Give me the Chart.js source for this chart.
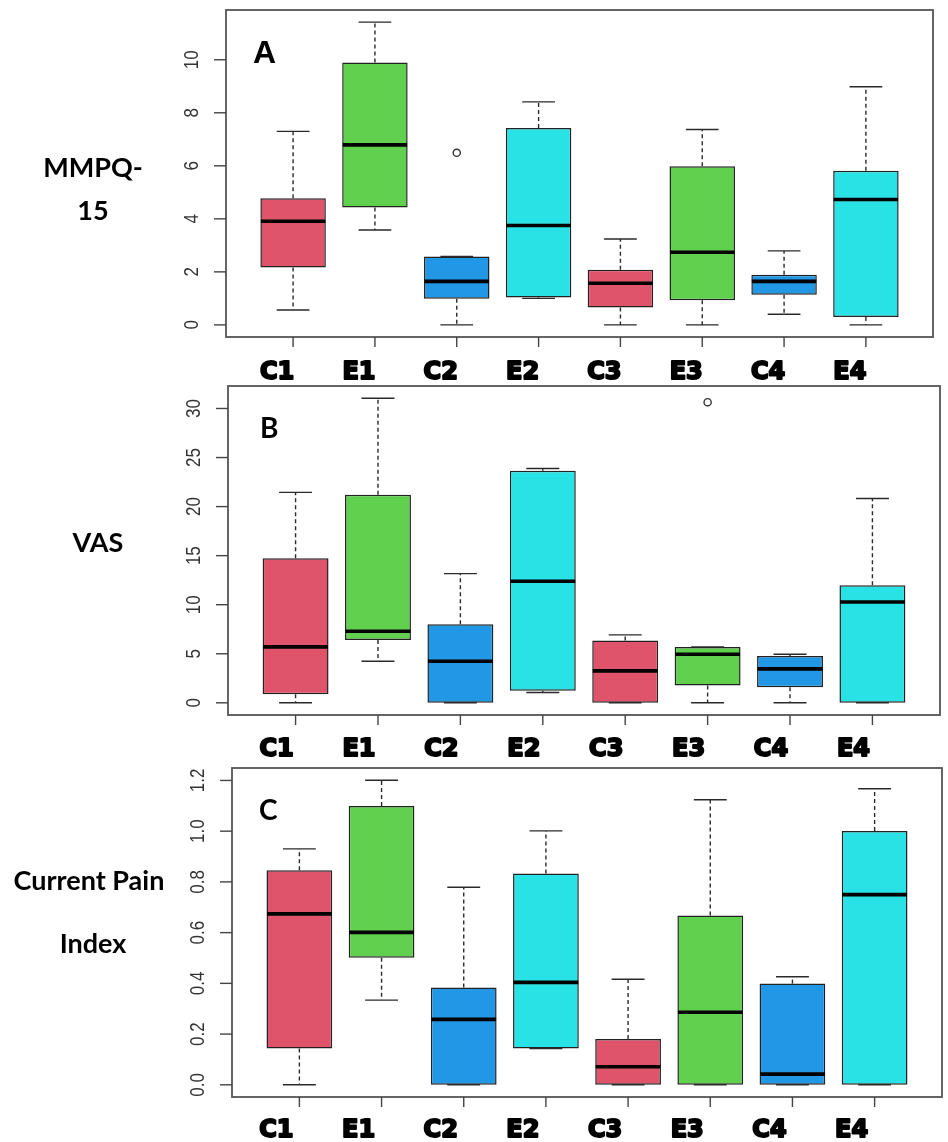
<!DOCTYPE html>
<html>
<head>
<meta charset="utf-8">
<script src="https://cdn.jsdelivr.net/npm/chart.js@4.4.1/dist/chart.umd.min.js"></script>
<style>
  html, body { margin: 0; padding: 0; background: #ffffff; }
  #wrap { position: relative; width: 948px; height: 1142px; overflow: hidden; }
  canvas { position: absolute; left: 0; }
</style>
</head>
<body>
<div id="wrap">
  <canvas id="panelA" width="948" height="380" style="top:0px"></canvas>
  <canvas id="panelB" width="948" height="380" style="top:380px"></canvas>
  <canvas id="panelC" width="948" height="382" style="top:760px"></canvas>
</div>
<script>
// Groups along the x axis
const groups = ['C1', 'E1', 'C2', 'E2', 'C3', 'E3', 'C4', 'E4'];

// MMPQ-15 : whisker ends, quartiles, medians, outliers
const mmpqLow  = [0.56, 3.58, 0.00, 1.00, 0.00, 0.00, 0.40, 0.00];
const mmpqQ1   = [2.16, 4.43, 0.99, 1.03, 0.66, 0.93, 1.14, 0.30];
const mmpqMed  = [3.91, 6.79, 1.64, 3.75, 1.57, 2.74, 1.64, 4.73];
const mmpqQ3   = [4.78, 9.90, 2.58, 7.43, 2.08, 5.98, 1.89, 5.81];
const mmpqHigh = [7.30, 11.42, 2.58, 8.41, 3.24, 7.37, 2.79, 8.98];
const mmpqOut  = [[], [], [6.49], [], [], [], [], []];
const mmpqTicks = [0, 2, 4, 6, 8, 10];

// VAS
const vasLow  = [0.00, 4.24, 0.00, 1.05, 0.00, 0.00, 0.00, 0.00];
const vasQ1   = [0.88, 6.41, 0.00, 1.22, 0.00, 1.76, 1.59, 0.00];
const vasMed  = [5.70, 7.30, 4.24, 12.39, 3.26, 4.95, 3.46, 10.28];
const vasQ3   = [14.73, 21.21, 8.01, 23.65, 6.35, 5.70, 4.78, 11.98];
const vasHigh = [21.45, 31.05, 13.17, 23.89, 6.92, 5.70, 4.95, 20.83];
const vasOut  = [[], [], [], [], [], [30.64], [], []];
const vasTicks = [0, 5, 10, 15, 20, 25, 30];

// Current Pain Index
const cpiLow  = [0.000, 0.334, 0.000, 0.143, 0.000, 0.000, 0.000, 0.000];
const cpiQ1   = [0.143, 0.501, 0.000, 0.143, 0.000, 0.000, 0.000, 0.000];
const cpiMed  = [0.674, 0.601, 0.258, 0.404, 0.071, 0.286, 0.042, 0.750];
const cpiQ3   = [0.846, 1.099, 0.384, 0.833, 0.181, 0.668, 0.399, 1.001];
const cpiHigh = [0.930, 1.201, 0.779, 1.001, 0.416, 1.124, 0.426, 1.167];
const cpiOut  = [[], [], [], [], [], [], [], []];
const cpiTicks = [0, 0.2, 0.4, 0.6, 0.8, 1.0, 1.2];

// Fill colours per group (R 4 palette)
const groupColors = ['#DF536B', '#61D04F', '#2297E6', '#28E2E5',
                     '#DF536B', '#61D04F', '#2297E6', '#28E2E5'];

Chart.defaults.animation = false;
Chart.defaults.devicePixelRatio = 1;

// Axis range padded by 4% on each side, like base R graphics
function paddedRange(lo, hi) {
  const r = hi - lo;
  return [lo - 0.04 * r, hi + 0.04 * r];
}

function makeBoxPlugin(stats, deco) {
  return {
    id: 'boxDecor' + deco.key,
    afterDatasetsDraw(chart) {
      const { ctx, scales: { x, y } } = chart;
      const meta = chart.getDatasetMeta(0);
      ctx.save();
      meta.data.forEach((bar, i) => {
        const cx = x.getPixelForValue(i + 1);
        const w = bar.width;
        const capHalf = w / 4;
        const yLow = y.getPixelForValue(stats.low[i]);
        const yQ1 = y.getPixelForValue(stats.q1[i]);
        const yMed = y.getPixelForValue(stats.med[i]);
        const yQ3 = y.getPixelForValue(stats.q3[i]);
        const yHigh = y.getPixelForValue(stats.high[i]);
        // dashed whiskers
        ctx.strokeStyle = '#2a2a2a';
        ctx.lineWidth = 1.4;
        ctx.setLineDash([4, 3]);
        ctx.beginPath();
        if (yHigh < yQ3 - 0.5) { ctx.moveTo(cx, yQ3); ctx.lineTo(cx, yHigh); }
        if (yLow > yQ1 + 0.5) { ctx.moveTo(cx, yQ1); ctx.lineTo(cx, yLow); }
        ctx.stroke();
        // staples
        ctx.setLineDash([]);
        ctx.beginPath();
        ctx.moveTo(cx - capHalf, yHigh); ctx.lineTo(cx + capHalf, yHigh);
        ctx.moveTo(cx - capHalf, yLow); ctx.lineTo(cx + capHalf, yLow);
        ctx.stroke();
        // median
        ctx.strokeStyle = '#000000';
        ctx.lineWidth = 3.6;
        ctx.beginPath();
        ctx.moveTo(cx - w / 2 + 0.5, yMed); ctx.lineTo(cx + w / 2 - 0.5, yMed);
        ctx.stroke();
        // outliers
        ctx.strokeStyle = '#333333';
        ctx.lineWidth = 1.4;
        stats.out[i].forEach(v => {
          ctx.beginPath();
          ctx.arc(cx, y.getPixelForValue(v), 3.6, 0, Math.PI * 2);
          ctx.stroke();
        });
      });
      ctx.restore();
    },
    afterDraw(chart) {
      const { ctx, chartArea: a, scales: { x, y } } = chart;
      ctx.save();
      // plot frame
      ctx.strokeStyle = '#555555';
      ctx.lineWidth = 1.8;
      ctx.strokeRect(a.left, a.top, a.right - a.left, a.bottom - a.top);
      // y ticks with labels reading bottom-to-top
      ctx.strokeStyle = '#444444';
      ctx.lineWidth = 1.4;
      ctx.fillStyle = '#333333';
      ctx.font = '17px "Liberation Sans", Arial, sans-serif';
      ctx.textAlign = 'center';
      ctx.textBaseline = 'alphabetic';
      y.ticks.forEach(t => {
        const py = y.getPixelForValue(t.value);
        ctx.beginPath();
        ctx.moveTo(a.left - 12, py); ctx.lineTo(a.left, py);
        ctx.stroke();
        ctx.save();
        ctx.translate(a.left - 28, py);
        ctx.scale(1.2, 1);
        ctx.rotate(-Math.PI / 2);
        ctx.fillText(deco.tickFormat(t.value), 0, 0);
        ctx.restore();
      });
      // x ticks and group labels
      ctx.fillStyle = '#000000';
      ctx.font = 'bold 24px "DejaVu Sans", sans-serif';
      x.ticks.forEach((t, i) => {
        const px = x.getPixelForValue(t.value);
        ctx.strokeStyle = '#444444';
        ctx.lineWidth = 1.4;
        ctx.beginPath();
        ctx.moveTo(px, a.bottom); ctx.lineTo(px, a.bottom + 10);
        ctx.stroke();
        ctx.strokeStyle = '#000000';
        ctx.lineWidth = 2;
        ctx.lineJoin = 'round';
        const lbl = groups[i];
        ctx.strokeText(lbl, px + deco.labelShift, a.bottom + deco.labelDrop);
        ctx.fillText(lbl, px + deco.labelShift, a.bottom + deco.labelDrop);
      });
      // panel letter
      ctx.textAlign = 'left';
      ctx.font = deco.letterFont;
      ctx.fillText(deco.letter, deco.letterX, deco.letterY);
      // axis title
      ctx.textAlign = 'center';
      ctx.font = 'bold 27px Lato, "Open Sans", sans-serif';
      deco.title.forEach(line => ctx.fillText(line.text, line.x, line.y));
      ctx.restore();
    }
  };
}

function buildPanel(canvasId, stats, ticks, deco, pad) {
  const outFlat = stats.out.flat();
  const [yMin, yMax] = paddedRange(
    Math.min(...stats.low, ...outFlat),
    Math.max(...stats.high, ...outFlat));
  const [xMin, xMax] = paddedRange(0.5, groups.length + 0.5);
  return new Chart(document.getElementById(canvasId), {
    type: 'bar',
    data: {
      datasets: [{
        data: groups.map((g, i) => ({ x: i + 1, y: [stats.q1[i], stats.q3[i]] })),
        backgroundColor: groupColors,
        borderColor: '#222222',
        borderWidth: 1.5,
        borderSkipped: false,
        categoryPercentage: 1.0,
        barPercentage: 0.8
      }]
    },
    options: {
      responsive: false,
      animation: false,
      layout: { padding: pad },
      plugins: { legend: { display: false }, tooltip: { enabled: false } },
      scales: {
        x: {
          type: 'linear', display: false, offset: false, min: xMin, max: xMax,
          afterBuildTicks: s => { s.ticks = groups.map((g, i) => ({ value: i + 1 })); }
        },
        y: {
          type: 'linear', display: false, min: yMin, max: yMax,
          afterBuildTicks: s => { s.ticks = ticks.map(v => ({ value: v })); }
        }
      }
    },
    plugins: [makeBoxPlugin(stats, deco)]
  });
}

buildPanel('panelA',
  { low: mmpqLow, q1: mmpqQ1, med: mmpqMed, q3: mmpqQ3, high: mmpqHigh, out: mmpqOut },
  mmpqTicks,
  { key: 'A', tickFormat: v => String(v), labelShift: -16, labelDrop: 42,
    letter: 'A', letterFont: 'bold 32px "Liberation Sans", Arial, sans-serif', letterX: 253, letterY: 63,
    title: [{ text: 'MMPQ-', x: 93, y: 177 }, { text: '15', x: 93, y: 220 }] },
  { left: 226, right: 15, top: 10, bottom: 43 });

buildPanel('panelB',
  { low: vasLow, q1: vasQ1, med: vasMed, q3: vasQ3, high: vasHigh, out: vasOut },
  vasTicks,
  { key: 'B', tickFormat: v => String(v), labelShift: -19, labelDrop: 41,
    letter: 'B', letterFont: 'bold 28px Lato, sans-serif', letterX: 260, letterY: 58,
    title: [{ text: 'VAS', x: 98, y: 172 }] },
  { left: 228, right: 8, top: 6, bottom: 45 });

buildPanel('panelC',
  { low: cpiLow, q1: cpiQ1, med: cpiMed, q3: cpiQ3, high: cpiHigh, out: cpiOut },
  cpiTicks,
  { key: 'C', tickFormat: v => v.toFixed(1), labelShift: -23, labelDrop: 40,
    letter: 'C', letterFont: 'bold 28px Lato, sans-serif', letterX: 259, letterY: 60,
    title: [{ text: 'Current Pain', x: 89, y: 130 }, { text: 'Index', x: 93, y: 193 }] },
  { left: 232, right: 6, top: 8, bottom: 45 });
</script>
</body>
</html>
